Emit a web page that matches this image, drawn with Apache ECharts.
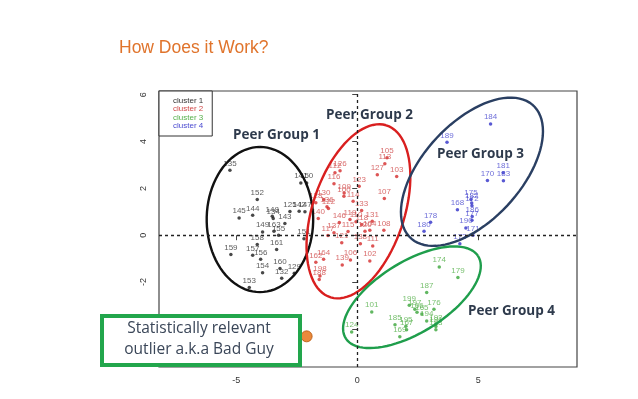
<!DOCTYPE html>
<html>
<head>
<meta charset="utf-8">
<script src="https://cdn.jsdelivr.net/npm/echarts@6/dist/echarts.min.js"></script>
<style>
  html, body { margin: 0; padding: 0; background: #fff; }
  #main { width: 638px; height: 399px; }
</style>
</head>
<body>
<div id="main"></div>
<script>
// points per cluster: [x, y, id]
var cluster1 = [
    [-5.26, 2.77, 135], [-2.33, 2.23, 141], [-2.09, 2.23, 150], [-4.13, 1.52, 152],
    [-4.88, 0.74, 145], [-4.32, 0.85, 144], [-3.51, 0.81, 148], [-3.47, 0.71, 134],
    [-2.78, 1.01, 125], [-2.99, 0.50, 143], [-2.40, 1.02, 142], [-2.16, 1.00, 147],
    [-3.91, 0.14, 149], [-3.44, 0.17, 163], [-3.25, 0.00, 155], [-4.13, -0.40, 158],
    [-4.32, -0.86, 157], [-3.99, -1.03, 156], [-3.33, -0.61, 161], [-5.22, -0.82, 159],
    [-3.91, -1.60, 154], [-3.19, -1.42, 160], [-3.12, -1.84, 132], [-2.60, -1.63, 129],
    [-4.46, -2.23, 153], [-2.20, -0.15, 151]
];
var cluster2 = [
    [1.23, 3.31, 105], [1.14, 3.05, 113], [0.83, 2.58, 127], [1.63, 2.51, 103],
    [-0.92, 2.67, 112], [-0.71, 2.75, 126], [-0.96, 2.20, 116], [0.08, 2.09, 123],
    [1.12, 1.57, 107], [-0.54, 1.80, 109], [-0.55, 1.66, 100], [-0.17, 1.45, 114],
    [-1.38, 1.52, 130], [-1.71, 1.39, 128], [-1.25, 1.22, 136], [-1.19, 1.14, 122],
    [0.18, 1.05, 133], [-1.61, 0.71, 140], [-0.74, 0.54, 146], [0.62, 0.60, 131],
    [1.10, 0.21, 108], [-0.30, 0.67, 119], [-0.05, 0.58, 110], [0.19, 0.46, 118],
    [0.32, 0.17, 120], [0.52, 0.21, 104], [-1.21, -0.01, 117], [-0.96, 0.11, 137],
    [-0.38, 0.16, 115], [-0.64, -0.32, 121], [0.64, -0.46, 111], [0.13, -0.37, 138],
    [0.52, -1.10, 102], [-0.28, -1.06, 106], [-0.62, -1.27, 139], [-1.39, -1.03, 164],
    [-1.71, -1.16, 162], [-1.57, -1.89, 188], [-1.54, -1.74, 198]
];
var cluster3 = [
    [3.39, -1.36, 174], [4.16, -1.81, 179], [2.87, -2.45, 187], [2.15, -2.99, 199],
    [2.38, -3.16, 197], [3.17, -3.16, 176], [2.67, -3.37, 165], [2.87, -3.66, 194],
    [2.47, -3.29, 166], [3.25, -3.90, 191], [3.25, -4.04, 193], [3.25, -3.80, 192],
    [0.60, -3.28, 101], [1.56, -3.83, 185], [2.04, -4.04, 167], [1.76, -4.34, 169],
    [2.01, -3.89, 195], [-0.23, -4.13, 124]
];
var cluster4 = [
    [5.51, 4.75, 184], [3.71, 3.97, 189], [6.03, 2.67, 181], [6.04, 2.33, 183],
    [5.38, 2.34, 170], [4.70, 1.52, 175], [4.73, 1.38, 182], [4.74, 1.26, 172],
    [4.14, 1.09, 168], [4.75, 0.80, 186], [4.74, 0.64, 177], [4.49, 0.31, 190],
    [4.78, 0.00, 171], [4.24, -0.37, 173], [3.03, 0.55, 178], [2.76, 0.17, 180]
];
var outlier = [[-2.09, -4.32]];

// peer group ellipses: [cx, cy, semi axis a, semi axis b, angle deg, group]
var groupEllipses = [
    [-4.02, 0.67, 3.10, 2.20, 90, 0],
    [0.05, 1.02, 3.85, 1.90, 72.7, 1],
    [4.74, 2.71, 3.80, 2.05, 49, 3],
    [2.26, -2.65, 3.25, 1.50, 33, 2]
];

var clusterNames = ['cluster 1', 'cluster 2', 'cluster 3', 'cluster 4'];
var dotColors = ['#1a1a1a', '#d42a2a', '#3aa53a', '#3030c8'];
var labelColors = ['#333333', '#d04848', '#55b04a', '#4a4ad0'];
var ringColors = ['#111111', '#d91f1f', '#1f9e4c', '#2a3f62'];

var xTicks = [-5, 0, 5];
var yTicks = [-4, -2, 0, 2, 4, 6];

var mChart = echarts.init(document.getElementById('main'));

function clusterSeries(i, pts) {
    var s = {
        name: clusterNames[i],
        type: 'scatter',
        data: pts,
        symbolSize: 3.5,
        itemStyle: {color: dotColors[i]},
        label: {
            show: true,
            position: 'top',
            distance: 1,
            fontSize: 8,
            fontFamily: 'Liberation Sans',
            color: labelColors[i],
            formatter: function (p) {
                return p.value[2];
            }
        },
        labelLayout: {hideOverlap: false},
        z: 3
    };
    return s;
}

var series = [
    clusterSeries(0, cluster1),
    clusterSeries(1, cluster2),
    clusterSeries(2, cluster3),
    clusterSeries(3, cluster4)
];

// dotted zero lines
series[0].markLine = {
    silent: true,
    symbol: 'none',
    label: {show: false},
    lineStyle: {color: '#222', type: [3, 3], width: 1.3},
    data: [{xAxis: 0}, {yAxis: 0}]
};

series.push({
    name: 'groups',
    type: 'custom',
    data: groupEllipses,
    encode: {x: 0, y: 1},
    silent: true,
    z: 4,
    renderItem: function (params, api) {
        var cx = api.value(0), cy = api.value(1);
        var a = api.value(2), b = api.value(3);
        var th = api.value(4) * Math.PI / 180;
        var g = api.value(5);
        var pts = [];
        for (var k = 0; k <= 90; k++) {
            var t = k / 90 * 2 * Math.PI;
            var px = cx + a * Math.cos(t) * Math.cos(th) - b * Math.sin(t) * Math.sin(th);
            var py = cy + a * Math.cos(t) * Math.sin(th) + b * Math.sin(t) * Math.cos(th);
            pts.push(api.coord([px, py]));
        }
        return {
            type: 'polyline',
            shape: {points: pts},
            style: {fill: null, stroke: ringColors[g], lineWidth: 2.4}
        };
    }
});

series.push({
    name: 'outlier',
    type: 'scatter',
    data: outlier,
    symbolSize: 11,
    itemStyle: {color: '#e46c0a', borderColor: '#b4540a', borderWidth: 1},
    z: 5
});

var axisText = {fontSize: 9, color: '#333', fontFamily: 'Liberation Sans'};
var peerFont = 'bold 13.5px "Open Sans"';

option = {
    animation: false,
    title: {
        text: 'How Does it Work?',
        left: 114,
        top: 34,
        textStyle: {color: '#e0742c', fontSize: 17.5, fontWeight: 'normal', fontFamily: 'Liberation Sans'}
    },
    legend: {
        orient: 'vertical',
        left: 159,
        top: 91,
        icon: 'none',
        itemWidth: 0,
        itemHeight: 9,
        itemGap: 0,
        padding: [5, 9, 6, 9],
        borderColor: '#333',
        borderWidth: 1,
        backgroundColor: '#fff',
        selectedMode: false,
        textStyle: {fontSize: 8, fontFamily: 'Liberation Sans'},
        data: clusterNames.map(function (n, i) {
            return {name: n, textStyle: {color: labelColors[i]}};
        })
    },
    grid: {
        left: 159,
        top: 91,
        right: 61,
        bottom: 32,
        show: true,
        borderColor: '#444',
        borderWidth: 1.2
    },
    xAxis: {
        type: 'value',
        min: -8.19,
        max: 9.08,
        splitLine: {show: false},
        axisLine: {show: false},
        axisTick: {show: true, length: 5, customValues: xTicks, lineStyle: {color: '#444'}},
        axisLabel: Object.assign({margin: 9, customValues: xTicks}, axisText)
    },
    yAxis: {
        type: 'value',
        min: -5.63,
        max: 6.16,
        splitLine: {show: false},
        axisLine: {show: false},
        axisTick: {show: true, length: 5, customValues: yTicks, lineStyle: {color: '#444'}},
        axisLabel: Object.assign({margin: 11, rotate: 90, customValues: yTicks}, axisText)
    },
    graphic: [
        {type: 'text', left: 233, top: 128, z: 50,
            style: {text: 'Peer Group 1', fill: '#2e3a4c', font: peerFont}},
        {type: 'text', left: 326, top: 108, z: 50,
            style: {text: 'Peer Group 2', fill: '#2e3a4c', font: peerFont}},
        {type: 'text', left: 437, top: 147, z: 50,
            style: {text: 'Peer Group 3', fill: '#2e3a4c', font: peerFont}},
        {type: 'text', left: 468, top: 304, z: 50,
            style: {text: 'Peer Group 4', fill: '#2e3a4c', font: peerFont}},
        {type: 'rect', left: 100, top: 314, z: 60,
            shape: {width: 198, height: 49},
            style: {fill: '#fff', stroke: '#22a64c', lineWidth: 4}},
        {type: 'text', x: 199, y: 339.5, z: 61,
            style: {text: 'Statistically relevant\noutlier a.k.a Bad Guy', fill: '#3a4658',
                font: '15.5px "Open Sans"', align: 'center', verticalAlign: 'middle', lineHeight: 21}}
    ],
    series: series
};

mChart.setOption(option);
</script>
</body>
</html>
